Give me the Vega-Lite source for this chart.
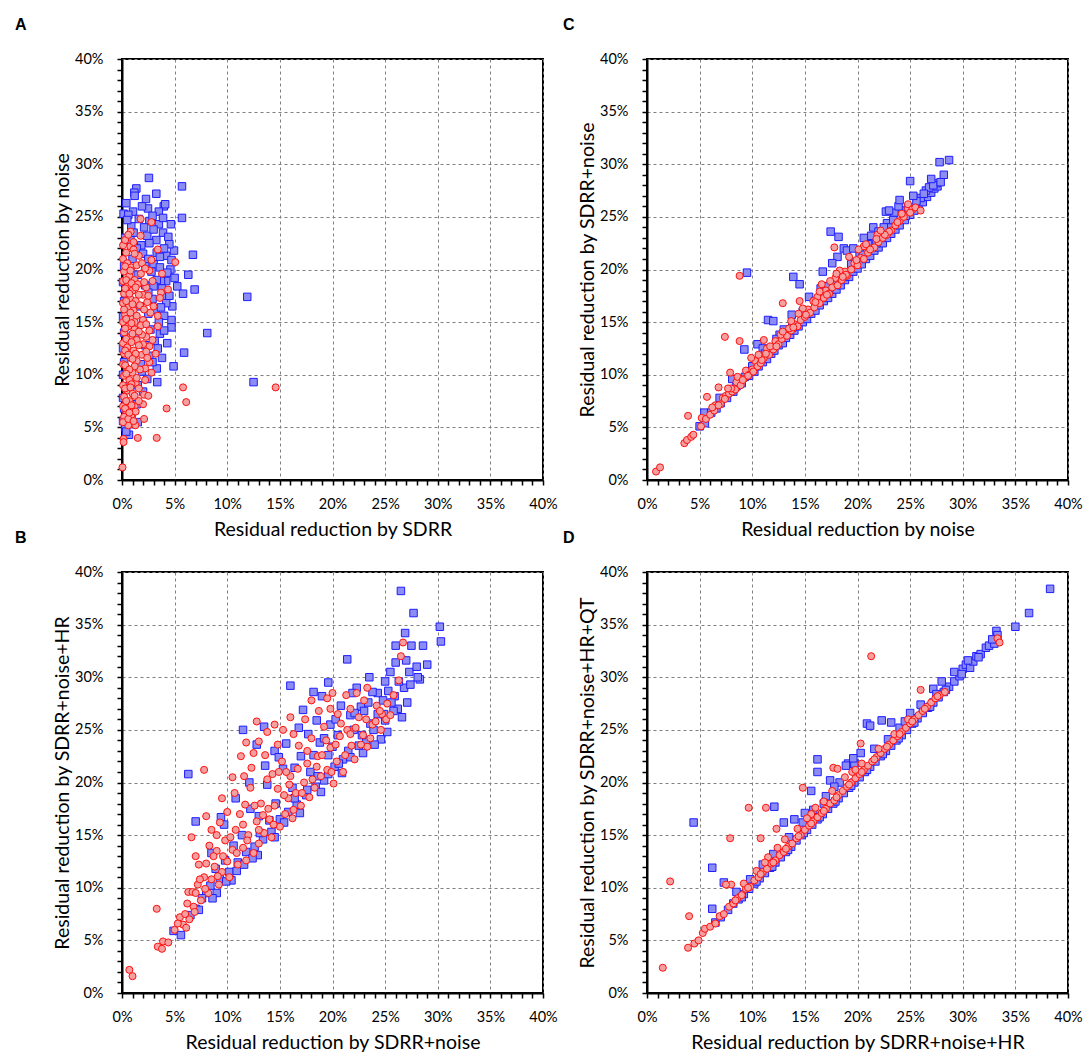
{
  "$schema": "https://vega.github.io/schema/vega-lite/v6.json",
  "padding": {"left": 14, "top": 15, "right": 5, "bottom": 5},
  "background": "#ffffff",
  "bounds": "flush",
  "columns": 2,
  "spacing": {"row": 92, "column": 104},
  "config": {
    "view": {"stroke": "#000000", "strokeWidth": 2},
    "axis": {
      "domainColor": "#000000", "domainWidth": 2,
      "tickColor": "#000000", "tickWidth": 1.5, "tickSize": 5,
      "labelFont": "Lato", "labelFontSize": 14.5, "labelColor": "#000000", "labelPadding": 12.5, "labelOverlap": false, "labelFlush": false,
      "titleFont": "Lato", "titleFontSize": 19.5, "titleFontWeight": "normal", "titleColor": "#000000", "titlePadding": 9,
      "gridColor": "#808080", "gridDash": [3, 3], "gridWidth": 1
    },
    "axisY": {"labelPadding": 14, "titlePadding": 2},
    "title": {"font": "Liberation Sans", "fontSize": 16, "fontWeight": "bold", "anchor": "start", "color": "#000000", "offset": 18.5, "frame": "group"}
  },
  "datasets": {
    "Ab": [
      {"x":2.56,"y":28.7},{"x":5.7,"y":27.9},{"x":1.36,"y":27.7},{"x":1.17,"y":27.3},{"x":1.2,"y":27.0},{"x":3.26,"y":27.2},{"x":2.28,"y":26.7},{"x":3.97,"y":26.0},{"x":4.1,"y":26.2},{"x":0.41,"y":26.3},
      {"x":1.05,"y":25.5},{"x":0.15,"y":25.3},{"x":2.47,"y":25.8},{"x":5.7,"y":24.9},{"x":3.5,"y":25.5},{"x":2.6,"y":24.6},{"x":0.88,"y":24.1},{"x":3.5,"y":24.3},{"x":4.65,"y":24.3},{"x":3.9,"y":23.5},
      {"x":2.4,"y":23.2},{"x":4.4,"y":23.1},{"x":3.26,"y":22.8},{"x":1.83,"y":22.3},{"x":4.94,"y":21.8},{"x":6.74,"y":21.4},{"x":4.2,"y":21.3},{"x":4.7,"y":20.9},{"x":6.3,"y":19.5},{"x":4.6,"y":20.0},
      {"x":5.25,"y":18.4},{"x":6.9,"y":18.1},{"x":5.8,"y":17.7},{"x":11.9,"y":17.4},{"x":4.2,"y":18.9},{"x":3.7,"y":18.9},{"x":4.78,"y":16.5},{"x":4.7,"y":15.2},{"x":4.7,"y":14.5},{"x":8.1,"y":13.96},
      {"x":3.6,"y":13.9},{"x":5.9,"y":12.1},{"x":3.8,"y":11.6},{"x":4.9,"y":10.8},{"x":3.35,"y":9.3},{"x":12.5,"y":9.3},{"x":1.5,"y":5.5},{"x":0.66,"y":4.3},
      {"x":0.3,"y":23.0},{"x":0.8,"y":22.8},{"x":1.4,"y":22.0},{"x":2.0,"y":21.5},{"x":2.5,"y":21.0},{"x":3.0,"y":20.5},{"x":3.6,"y":20.2},{"x":1.0,"y":21.0},{"x":0.2,"y":20.3},{"x":2.8,"y":19.8},
      {"x":3.3,"y":19.0},{"x":2.2,"y":18.5},{"x":1.5,"y":19.5},{"x":0.1,"y":18.8},{"x":3.9,"y":17.5},{"x":2.9,"y":17.2},{"x":4.2,"y":16.8},{"x":3.2,"y":16.2},{"x":0.2,"y":17.0},{"x":2.5,"y":15.8},
      {"x":4.0,"y":15.6},{"x":3.5,"y":15.0},{"x":0.1,"y":15.5},{"x":2.7,"y":14.3},{"x":0.2,"y":14.0},{"x":3.1,"y":13.2},{"x":4.3,"y":13.0},{"x":2.2,"y":12.8},{"x":0.1,"y":12.5},{"x":2.6,"y":11.8},
      {"x":0.2,"y":11.2},{"x":3.3,"y":10.6},{"x":1.9,"y":10.3},{"x":0.1,"y":10.0},{"x":2.4,"y":9.6},{"x":0.3,"y":8.9},{"x":2.0,"y":8.4},{"x":0.1,"y":7.8},{"x":1.4,"y":7.2},{"x":0.2,"y":6.8},
      {"x":0.9,"y":6.2},{"x":0.1,"y":5.6},{"x":0.3,"y":5.0},{"x":1.8,"y":11.0},{"x":1.2,"y":13.5},{"x":1.7,"y":16.5},{"x":2.1,"y":24.0},{"x":1.6,"y":24.8},{"x":0.6,"y":25.2},{"x":3.0,"y":23.8},{"x":1.1,"y":23.5},
      {"x":0.5,"y":24.7},{"x":1.9,"y":26.0},{"x":2.9,"y":25.1},{"x":3.9,"y":24.9},{"x":4.5,"y":22.4},{"x":4.0,"y":22.0},{"x":3.3,"y":21.6},{"x":2.6,"y":22.5},{"x":2.2,"y":20.3},{"x":3.6,"y":21.2},
      {"x":4.3,"y":19.7},{"x":3.8,"y":18.2},{"x":3.0,"y":18.4},{"x":2.5,"y":17.8},{"x":4.0,"y":14.2},{"x":3.4,"y":12.5},{"x":2.9,"y":11.2},{"x":1.5,"y":9.0},{"x":0.8,"y":5.3},{"x":0.4,"y":4.6},
      {"x":4.5,"y":17.5},{"x":5.0,"y":19.2},{"x":2.0,"y":14.9},{"x":3.7,"y":16.4}
    ],
    "Ar": [
      {"x":1.77,"y":24.8},{"x":2.8,"y":24.5},{"x":0.82,"y":23.6},{"x":1.77,"y":23.2},{"x":0.1,"y":22.3},{"x":0.8,"y":22.2},{"x":1.1,"y":21.9},{"x":3.4,"y":21.9},{"x":2.8,"y":20.9},{"x":5.06,"y":20.7},
      {"x":3.8,"y":19.6},{"x":2.3,"y":18.3},{"x":4.37,"y":18.1},{"x":3.7,"y":17.8},{"x":3.6,"y":17.3},{"x":3.4,"y":15.6},{"x":3.4,"y":14.6},{"x":2.3,"y":13.6},{"x":2.6,"y":12.7},{"x":2.0,"y":12.9},
      {"x":2.6,"y":11.2},{"x":2.2,"y":10.6},{"x":5.8,"y":8.8},{"x":14.6,"y":8.8},{"x":6.1,"y":7.4},{"x":4.24,"y":6.8},{"x":2.1,"y":8.1},{"x":2.5,"y":8.0},{"x":2.0,"y":7.2},{"x":2.1,"y":5.8},
      {"x":1.27,"y":5.2},{"x":0.6,"y":5.2},{"x":1.5,"y":4.0},{"x":3.3,"y":4.0},{"x":0.15,"y":3.9},{"x":0.15,"y":3.6},{"x":0.05,"y":1.2},
      {"x":0.1,"y":21.0},{"x":0.5,"y":20.6},{"x":0.9,"y":20.2},{"x":1.4,"y":20.4},{"x":0.2,"y":19.8},{"x":0.7,"y":19.4},{"x":1.2,"y":19.0},{"x":1.8,"y":19.6},{"x":0.1,"y":18.9},{"x":0.5,"y":18.4},
      {"x":1.0,"y":18.0},{"x":1.5,"y":18.6},{"x":2.0,"y":17.6},{"x":0.2,"y":17.7},{"x":0.8,"y":17.2},{"x":1.3,"y":17.0},{"x":0.1,"y":16.8},{"x":0.6,"y":16.4},{"x":1.1,"y":16.1},{"x":1.7,"y":16.6},
      {"x":2.4,"y":16.9},{"x":0.3,"y":15.7},{"x":0.9,"y":15.3},{"x":1.4,"y":15.6},{"x":2.0,"y":15.2},{"x":0.1,"y":15.0},{"x":0.6,"y":14.6},{"x":1.2,"y":14.3},{"x":1.8,"y":14.7},{"x":0.2,"y":14.0},
      {"x":0.8,"y":13.6},{"x":1.4,"y":13.3},{"x":0.1,"y":13.0},{"x":0.5,"y":12.6},{"x":1.1,"y":12.3},{"x":1.6,"y":12.8},{"x":0.2,"y":12.0},{"x":0.8,"y":11.6},{"x":1.4,"y":11.3},{"x":0.1,"y":11.0},
      {"x":0.5,"y":10.6},{"x":1.0,"y":10.2},{"x":1.7,"y":10.5},{"x":0.2,"y":9.9},{"x":0.7,"y":9.5},{"x":1.3,"y":9.2},{"x":0.1,"y":9.0},{"x":0.5,"y":8.5},{"x":1.0,"y":8.2},{"x":1.6,"y":8.7},
      {"x":0.2,"y":7.9},{"x":0.7,"y":7.5},{"x":1.2,"y":7.0},{"x":0.1,"y":7.0},{"x":0.4,"y":6.5},{"x":0.9,"y":6.2},{"x":0.2,"y":6.0},{"x":0.1,"y":5.5},{"x":0.6,"y":5.8},{"x":1.3,"y":6.5},
      {"x":2.2,"y":9.5},{"x":1.9,"y":13.8},{"x":2.3,"y":14.8},{"x":2.5,"y":17.5},{"x":2.1,"y":18.8},{"x":1.6,"y":21.3},{"x":0.4,"y":21.6},{"x":2.6,"y":19.9},{"x":1.9,"y":11.9},{"x":2.7,"y":15.9},
      {"x":3.0,"y":16.5},{"x":2.9,"y":18.9},{"x":1.1,"y":22.6},{"x":0.3,"y":22.8},
      {"x":0.3,"y":20.3},{"x":0.8,"y":19.9},{"x":1.2,"y":21.5},{"x":0.4,"y":19.0},{"x":0.9,"y":18.7},{"x":1.3,"y":18.3},{"x":0.3,"y":18.2},{"x":0.7,"y":17.7},{"x":1.6,"y":17.6},{"x":0.4,"y":17.0},
      {"x":1.0,"y":16.7},{"x":0.2,"y":16.2},{"x":0.8,"y":15.9},{"x":1.2,"y":15.0},{"x":0.4,"y":15.3},{"x":0.9,"y":14.9},{"x":0.3,"y":14.4},{"x":1.0,"y":13.9},{"x":1.6,"y":14.1},{"x":0.4,"y":13.4},
      {"x":0.9,"y":13.1},{"x":0.3,"y":12.3},{"x":1.3,"y":12.0},{"x":0.6,"y":11.9},{"x":1.0,"y":11.5},{"x":0.3,"y":10.9},{"x":1.2,"y":10.8},{"x":0.7,"y":10.5},{"x":0.4,"y":10.1},{"x":1.4,"y":9.7},
      {"x":0.9,"y":9.1},{"x":0.3,"y":8.7},{"x":0.8,"y":8.8},{"x":1.2,"y":8.0},{"x":0.4,"y":7.5},{"x":0.9,"y":7.1},{"x":1.6,"y":7.5},{"x":0.3,"y":6.8},{"x":0.7,"y":6.4},{"x":1.1,"y":5.6},
      {"x":2.3,"y":12.2},{"x":2.4,"y":11.6},{"x":2.1,"y":16.2},{"x":2.6,"y":14.2},{"x":1.9,"y":20.6},{"x":2.2,"y":20.1},{"x":0.6,"y":23.3},{"x":2.9,"y":13.3},{"x":2.8,"y":10.2},{"x":3.2,"y":12.0}
    ],
    "Cb": [
      {"x":5.0,"y":5.1},{"x":5.5,"y":5.4},{"x":5.45,"y":6.4},{"x":6.1,"y":6.4},{"x":6.6,"y":6.8},{"x":7.0,"y":7.3},{"x":7.6,"y":7.8},{"x":8.2,"y":8.4},{"x":8.5,"y":8.9},{"x":9.0,"y":9.2},
      {"x":9.3,"y":9.8},{"x":9.7,"y":9.9},{"x":10.2,"y":10.3},{"x":10.6,"y":10.8},{"x":11.0,"y":11.2},{"x":11.4,"y":11.5},{"x":11.8,"y":12.0},{"x":12.1,"y":12.3},{"x":12.5,"y":12.8},{"x":12.9,"y":13.0},
      {"x":13.2,"y":13.5},{"x":13.6,"y":13.8},{"x":14.0,"y":14.2},{"x":14.4,"y":14.6},{"x":14.8,"y":15.0},{"x":15.2,"y":15.3},{"x":15.6,"y":15.8},{"x":16.0,"y":16.1},{"x":16.4,"y":16.6},{"x":16.8,"y":17.0},
      {"x":17.2,"y":17.3},{"x":17.6,"y":17.7},{"x":18.0,"y":18.1},{"x":18.4,"y":18.5},{"x":18.8,"y":19.0},{"x":19.2,"y":19.3},{"x":19.6,"y":19.8},{"x":20.0,"y":20.1},{"x":20.4,"y":20.5},{"x":20.8,"y":21.0},
      {"x":21.2,"y":21.3},{"x":21.6,"y":21.8},{"x":22.0,"y":22.1},{"x":22.4,"y":22.5},{"x":22.8,"y":23.0},{"x":23.2,"y":23.4},{"x":23.6,"y":23.8},{"x":24.0,"y":24.2},{"x":24.5,"y":24.7},{"x":25.0,"y":25.2},
      {"x":25.4,"y":25.6},{"x":25.8,"y":26.0},{"x":26.2,"y":26.4},{"x":26.6,"y":26.9},{"x":27.0,"y":27.3},{"x":27.3,"y":27.7},{"x":27.6,"y":27.9},{"x":27.5,"y":28.2},{"x":27.8,"y":30.2},{"x":28.7,"y":30.4},
      {"x":25.0,"y":28.4},{"x":26.0,"y":26.8},{"x":24.3,"y":25.6},{"x":23.5,"y":25.4},{"x":22.7,"y":25.5},{"x":23.9,"y":26.0},{"x":22.8,"y":24.4},{"x":21.5,"y":24.0},{"x":17.45,"y":23.6},{"x":18.2,"y":23.1},
      {"x":18.7,"y":22.0},{"x":18.1,"y":21.2},{"x":19.0,"y":21.8},{"x":19.6,"y":22.0},{"x":20.2,"y":21.6},{"x":17.6,"y":20.6},{"x":16.7,"y":19.8},{"x":13.9,"y":19.3},{"x":14.5,"y":18.6},{"x":9.5,"y":19.7},
      {"x":9.25,"y":12.4},{"x":11.5,"y":15.2},{"x":12.0,"y":15.1},{"x":13.75,"y":15.7},{"x":10.5,"y":12.9},{"x":8.1,"y":9.6},{"x":15.4,"y":17.4},{"x":16.5,"y":18.2},{"x":16.0,"y":17.0},{"x":12.6,"y":13.8},
      {"x":11.0,"y":12.5},{"x":14.8,"y":16.0},{"x":19.8,"y":20.7},{"x":21.0,"y":22.4},{"x":22.2,"y":23.3},{"x":23.0,"y":24.0},{"x":24.8,"y":25.9},{"x":26.5,"y":27.5},{"x":26.8,"y":27.8},{"x":27.2,"y":28.0},
      {"x":20.6,"y":23.0},{"x":22.0,"y":23.6},
      {"x":27.9,"y":28.3},{"x":28.2,"y":29.0},{"x":27.0,"y":28.6},{"x":26.3,"y":27.2},{"x":25.6,"y":26.5},{"x":25.3,"y":27.0},{"x":24.6,"y":25.1},{"x":23.4,"y":24.7},{"x":22.5,"y":24.0},{"x":21.8,"y":22.5},
      {"x":21.3,"y":23.2},{"x":20.5,"y":21.4},{"x":19.4,"y":20.5},{"x":18.5,"y":19.6},{"x":17.8,"y":18.6},{"x":17.0,"y":18.4},{"x":16.2,"y":17.0},{"x":15.0,"y":16.1},{"x":13.8,"y":14.5},{"x":13.0,"y":14.3},
      {"x":12.3,"y":13.4},{"x":11.2,"y":12.0},{"x":10.0,"y":10.8},{"x":8.8,"y":9.3},{"x":7.9,"y":8.4},{"x":6.9,"y":7.8},{"x":24.0,"y":26.6},{"x":23.0,"y":25.6}
    ],
    "Cr": [
      {"x":0.86,"y":0.8},{"x":1.24,"y":1.2},{"x":3.55,"y":3.5},{"x":3.8,"y":3.8},{"x":4.2,"y":4.1},{"x":4.4,"y":4.3},{"x":3.9,"y":6.1},{"x":5.13,"y":5.1},{"x":5.2,"y":5.9},{"x":5.7,"y":7.9},
      {"x":6.8,"y":8.8},{"x":7.4,"y":13.6},{"x":8.8,"y":19.4},{"x":8.8,"y":13.2},{"x":7.9,"y":10.2},{"x":12.9,"y":16.8},{"x":11.1,"y":13.3},{"x":14.5,"y":17.0},{"x":17.8,"y":22.1},{"x":21.9,"y":23.3},
      {"x":20.6,"y":22.2},
      {"x":5.6,"y":5.8},{"x":6.0,"y":6.2},{"x":6.4,"y":6.6},{"x":6.5,"y":7.1},{"x":7.0,"y":7.2},{"x":7.2,"y":7.8},{"x":7.5,"y":8.0},{"x":7.8,"y":8.2},{"x":8.1,"y":8.4},{"x":8.4,"y":8.6},
      {"x":8.5,"y":9.3},{"x":8.9,"y":9.0},{"x":9.2,"y":9.6},{"x":9.4,"y":10.4},{"x":9.7,"y":10.0},{"x":10.0,"y":10.5},{"x":10.3,"y":11.3},{"x":10.5,"y":10.8},{"x":10.8,"y":11.1},{"x":11.1,"y":11.6},
      {"x":11.4,"y":12.5},{"x":11.6,"y":11.9},{"x":12.0,"y":12.4},{"x":12.2,"y":13.2},{"x":12.5,"y":12.9},{"x":12.8,"y":13.4},{"x":13.0,"y":13.9},{"x":13.3,"y":13.7},{"x":13.7,"y":14.2},{"x":14.0,"y":14.8},
      {"x":14.3,"y":14.6},{"x":14.6,"y":15.2},{"x":15.0,"y":15.5},{"x":15.3,"y":16.2},{"x":15.5,"y":15.9},{"x":15.9,"y":16.4},{"x":16.2,"y":17.4},{"x":16.4,"y":16.8},{"x":16.8,"y":17.3},{"x":17.0,"y":18.0},
      {"x":17.3,"y":17.7},{"x":17.6,"y":18.3},{"x":17.9,"y":19.2},{"x":18.1,"y":18.5},{"x":18.5,"y":19.0},{"x":18.8,"y":19.8},{"x":19.0,"y":19.4},{"x":19.4,"y":20.0},{"x":19.7,"y":20.6},{"x":20.0,"y":20.4},
      {"x":20.3,"y":21.1},{"x":20.6,"y":21.0},{"x":21.0,"y":21.6},{"x":21.3,"y":22.0},{"x":21.6,"y":22.1},{"x":22.0,"y":22.6},{"x":22.4,"y":23.0},{"x":22.8,"y":23.3},{"x":23.2,"y":23.7},{"x":23.6,"y":24.2},
      {"x":24.0,"y":24.6},{"x":24.4,"y":25.0},{"x":24.8,"y":25.8},{"x":24.8,"y":26.2},{"x":25.2,"y":25.7},{"x":25.5,"y":25.9},{"x":26.0,"y":25.6},{"x":12.7,"y":13.8},{"x":11.3,"y":12.0},{"x":13.7,"y":15.1},
      {"x":9.9,"y":11.6},{"x":10.1,"y":10.3},{"x":8.0,"y":8.7},{"x":15.8,"y":17.0},{"x":18.3,"y":19.9},{"x":19.2,"y":21.2},{"x":16.6,"y":18.6},{"x":6.2,"y":6.9},{"x":7.7,"y":8.7},{"x":11.7,"y":12.7},
      {"x":14.8,"y":16.3},{"x":17.4,"y":18.9},{"x":20.1,"y":21.9},{"x":21.8,"y":22.9},{"x":23.0,"y":23.6},{"x":18.9,"y":19.5},{"x":13.5,"y":14.4},
      {"x":9.6,"y":9.9},{"x":10.9,"y":11.4},{"x":12.3,"y":12.7},{"x":13.9,"y":14.5},{"x":15.1,"y":15.7},{"x":16.0,"y":16.9},{"x":17.1,"y":17.6},{"x":18.6,"y":19.3},{"x":19.9,"y":20.9},{"x":21.2,"y":21.9},
      {"x":22.6,"y":23.3},{"x":23.8,"y":24.5},{"x":25.0,"y":25.4},{"x":8.6,"y":9.8},{"x":10.6,"y":11.9},{"x":12.9,"y":14.1},{"x":14.4,"y":15.8},{"x":16.4,"y":17.9},{"x":18.0,"y":19.6},{"x":20.8,"y":22.4},
      {"x":22.2,"y":23.7},{"x":24.2,"y":25.3},{"x":7.4,"y":7.7},{"x":6.8,"y":7.1},{"x":9.1,"y":9.5}
    ],
    "Bb": [
      {"x":4.9,"y":5.9},{"x":5.6,"y":5.5},{"x":6.3,"y":20.8},{"x":7.0,"y":16.3},{"x":8.5,"y":13.3},{"x":9.4,"y":16.7},{"x":9.7,"y":16.0},{"x":11.5,"y":25.0},{"x":12.8,"y":23.6},{"x":13.5,"y":25.3},
      {"x":14.5,"y":23.0},{"x":16.0,"y":29.2},{"x":17.2,"y":26.9},{"x":18.2,"y":28.6},{"x":19.0,"y":28.2},{"x":19.6,"y":29.5},{"x":21.4,"y":31.7},{"x":22.3,"y":29.0},{"x":23.5,"y":30.0},{"x":24.3,"y":28.5},
      {"x":25.3,"y":28.7},{"x":25.5,"y":30.5},{"x":26.0,"y":33.0},{"x":26.5,"y":38.2},{"x":27.7,"y":36.1},{"x":30.2,"y":34.8},{"x":30.3,"y":33.4},{"x":27.5,"y":33.0},{"x":27.0,"y":31.6},{"x":27.3,"y":30.5},
      {"x":28.0,"y":31.0},{"x":28.3,"y":29.8},{"x":26.8,"y":29.0},{"x":26.2,"y":27.0},{"x":25.8,"y":26.8},{"x":25.0,"y":25.9},{"x":24.3,"y":26.5},{"x":23.6,"y":25.6},{"x":23.2,"y":24.0},{"x":22.5,"y":23.5},
      {"x":22.0,"y":25.0},{"x":21.5,"y":23.0},{"x":21.0,"y":22.2},{"x":20.5,"y":24.5},{"x":20.2,"y":21.5},{"x":19.6,"y":22.6},{"x":19.2,"y":20.2},{"x":18.8,"y":23.8},{"x":18.4,"y":19.6},{"x":17.9,"y":21.0},
      {"x":17.5,"y":18.8},{"x":17.0,"y":22.5},{"x":16.6,"y":17.9},{"x":16.2,"y":19.5},{"x":15.8,"y":17.2},{"x":15.3,"y":21.3},{"x":15.0,"y":16.5},{"x":14.6,"y":18.0},{"x":14.2,"y":15.3},{"x":13.8,"y":19.8},
      {"x":13.4,"y":14.6},{"x":13.0,"y":16.8},{"x":12.6,"y":13.9},{"x":12.2,"y":17.5},{"x":11.8,"y":13.4},{"x":11.4,"y":15.0},{"x":11.0,"y":12.4},{"x":10.6,"y":14.0},{"x":10.2,"y":11.5},{"x":9.8,"y":12.6},
      {"x":9.3,"y":10.8},{"x":8.9,"y":11.8},{"x":8.4,"y":10.2},{"x":8.0,"y":9.5},{"x":7.6,"y":9.0},{"x":7.0,"y":8.0},{"x":6.5,"y":7.4},{"x":24.8,"y":27.8},{"x":25.9,"y":28.2},{"x":23.8,"y":28.6},
      {"x":22.7,"y":27.2},{"x":21.7,"y":26.4},{"x":20.8,"y":27.3},{"x":19.8,"y":25.5},{"x":18.5,"y":25.9},{"x":17.7,"y":24.6},{"x":16.8,"y":25.2},{"x":15.6,"y":23.7},{"x":14.9,"y":22.4},{"x":13.6,"y":21.6},
      {"x":12.1,"y":20.0},{"x":10.8,"y":18.5},{"x":23.0,"y":26.8},{"x":21.9,"y":28.5},{"x":20.3,"y":26.0},{"x":19.2,"y":24.2},{"x":24.6,"y":24.1},{"x":26.6,"y":26.2},{"x":27.1,"y":27.6},{"x":25.2,"y":24.8},
      {"x":22.9,"y":22.8},{"x":20.9,"y":20.9},{"x":18.9,"y":19.1},{"x":16.9,"y":17.1},{"x":12.9,"y":13.1},{"x":10.4,"y":10.7},{"x":14.5,"y":14.8},{"x":24.0,"y":23.6},{"x":29.0,"y":31.2},{"x":28.6,"y":33.0},
      {"x":26.9,"y":34.2},
      {"x":26.3,"y":29.6},{"x":27.4,"y":29.3},{"x":28.1,"y":30.0},{"x":25.6,"y":27.6},{"x":24.9,"y":26.5},{"x":23.9,"y":25.0},{"x":22.8,"y":24.5},{"x":21.7,"y":22.4},{"x":20.6,"y":21.8},{"x":19.6,"y":20.8},
      {"x":18.6,"y":20.6},{"x":17.6,"y":19.3},{"x":16.4,"y":18.5},{"x":15.4,"y":16.2},{"x":14.0,"y":16.4},{"x":13.1,"y":15.2},{"x":12.4,"y":12.8},{"x":11.6,"y":12.2},{"x":10.9,"y":11.6},{"x":9.9,"y":10.6},
      {"x":9.0,"y":9.5},{"x":8.6,"y":9.0},{"x":7.3,"y":7.9},{"x":23.4,"y":27.6},{"x":22.1,"y":26.6},{"x":20.0,"y":23.4},{"x":18.2,"y":22.6},{"x":16.4,"y":21.4},{"x":26.0,"y":31.4},{"x":25.0,"y":29.6}
    ],
    "Br": [
      {"x":0.7,"y":2.2},{"x":1.0,"y":1.6},{"x":3.3,"y":8.0},{"x":3.4,"y":4.4},{"x":3.8,"y":4.2},{"x":3.9,"y":4.9},{"x":4.4,"y":4.8},{"x":6.3,"y":9.6},{"x":6.7,"y":9.6},{"x":6.2,"y":8.5},
      {"x":6.6,"y":14.8},{"x":7.0,"y":13.0},{"x":7.3,"y":12.2},{"x":7.8,"y":21.2},{"x":8.0,"y":16.8},{"x":8.5,"y":15.5},{"x":9.5,"y":18.5},{"x":10.5,"y":20.5},{"x":11.3,"y":22.5},{"x":11.8,"y":23.8},
      {"x":12.5,"y":22.8},{"x":12.8,"y":25.8},{"x":13.8,"y":24.8},{"x":14.5,"y":25.5},{"x":15.3,"y":25.0},{"x":19.8,"y":27.0},{"x":20.5,"y":26.5},{"x":21.3,"y":28.3},{"x":22.3,"y":28.5},{"x":23.3,"y":29.0},
      {"x":26.7,"y":33.3},{"x":26.5,"y":32.0},{"x":24.7,"y":26.5},
      {"x":5.0,"y":6.0},{"x":5.5,"y":7.2},{"x":5.8,"y":6.5},{"x":6.0,"y":7.5},{"x":6.4,"y":7.0},{"x":6.8,"y":8.2},{"x":7.0,"y":9.5},{"x":7.2,"y":10.3},{"x":7.5,"y":8.8},{"x":7.8,"y":11.0},
      {"x":8.0,"y":12.3},{"x":8.2,"y":9.5},{"x":8.5,"y":10.8},{"x":8.8,"y":12.0},{"x":9.0,"y":13.5},{"x":9.2,"y":10.3},{"x":9.5,"y":11.5},{"x":9.8,"y":14.5},{"x":10.0,"y":12.5},{"x":10.2,"y":11.0},
      {"x":10.5,"y":13.6},{"x":10.8,"y":15.5},{"x":11.0,"y":12.2},{"x":11.2,"y":17.0},{"x":11.5,"y":13.8},{"x":11.8,"y":12.6},{"x":12.0,"y":15.0},{"x":12.2,"y":19.5},{"x":12.5,"y":13.3},{"x":12.8,"y":16.3},
      {"x":13.0,"y":14.2},{"x":13.2,"y":18.0},{"x":13.5,"y":15.2},{"x":13.8,"y":20.3},{"x":14.0,"y":16.5},{"x":14.2,"y":14.8},{"x":14.5,"y":17.8},{"x":14.8,"y":19.4},{"x":15.0,"y":15.8},{"x":15.2,"y":22.0},
      {"x":15.5,"y":17.0},{"x":15.8,"y":18.5},{"x":16.0,"y":20.6},{"x":16.2,"y":16.6},{"x":16.5,"y":19.0},{"x":16.8,"y":23.5},{"x":17.0,"y":17.8},{"x":17.3,"y":20.0},{"x":17.6,"y":21.8},{"x":17.8,"y":18.6},
      {"x":18.0,"y":24.2},{"x":18.3,"y":19.5},{"x":18.6,"y":22.5},{"x":18.9,"y":20.6},{"x":19.2,"y":25.3},{"x":19.5,"y":21.2},{"x":19.8,"y":23.3},{"x":20.1,"y":19.9},{"x":20.4,"y":22.0},{"x":20.7,"y":24.4},
      {"x":21.0,"y":21.0},{"x":21.4,"y":25.0},{"x":21.8,"y":23.5},{"x":22.1,"y":22.2},{"x":22.5,"y":26.2},{"x":22.9,"y":24.5},{"x":23.3,"y":23.4},{"x":23.8,"y":25.5},{"x":24.2,"y":27.3},{"x":24.6,"y":25.0},
      {"x":25.1,"y":26.0},{"x":25.5,"y":26.4},{"x":16.3,"y":24.6},{"x":17.4,"y":26.0},{"x":18.7,"y":26.8},{"x":15.6,"y":21.0},{"x":13.6,"y":22.6},{"x":12.3,"y":21.4},{"x":10.7,"y":19.0},{"x":9.3,"y":16.2},
      {"x":8.3,"y":14.0},{"x":20.0,"y":28.5},{"x":21.7,"y":27.0},{"x":23.0,"y":27.8},{"x":14.3,"y":20.8},{"x":11.7,"y":17.9},
      {"x":5.3,"y":6.6},{"x":6.1,"y":6.2},{"x":6.9,"y":7.7},{"x":7.4,"y":10.8},{"x":7.9,"y":9.9},{"x":8.7,"y":13.0},{"x":9.1,"y":11.1},{"x":9.6,"y":13.0},{"x":10.3,"y":14.8},{"x":10.9,"y":13.3},
      {"x":11.5,"y":16.0},{"x":11.9,"y":14.5},{"x":12.6,"y":17.8},{"x":13.0,"y":15.5},{"x":13.4,"y":16.9},{"x":13.9,"y":17.5},{"x":14.4,"y":16.0},{"x":14.9,"y":21.0},{"x":15.4,"y":18.8},{"x":15.9,"y":19.8},
      {"x":16.3,"y":17.4},{"x":16.7,"y":21.3},{"x":17.1,"y":19.0},{"x":17.6,"y":23.0},{"x":18.1,"y":20.3},{"x":18.5,"y":21.5},{"x":19.0,"y":22.6},{"x":19.4,"y":24.0},{"x":19.9,"y":21.0},{"x":20.3,"y":23.6},
      {"x":20.8,"y":25.6},{"x":21.2,"y":22.6},{"x":21.7,"y":24.6},{"x":22.2,"y":25.2},{"x":22.7,"y":23.6},{"x":23.2,"y":26.0},{"x":23.6,"y":24.2},{"x":24.1,"y":25.8},{"x":24.5,"y":26.8},{"x":25.2,"y":27.5},
      {"x":25.8,"y":28.3},{"x":26.3,"y":29.7},{"x":18.0,"y":27.8},{"x":19.5,"y":28.0},{"x":16.0,"y":26.2},{"x":14.8,"y":23.6},{"x":13.0,"y":23.9},{"x":11.6,"y":20.6},{"x":10.0,"y":17.2},{"x":9.0,"y":15.0}
    ],
    "Db": [
      {"x":4.43,"y":16.2},{"x":12.1,"y":17.7},{"x":15.6,"y":19.2},{"x":16.2,"y":22.2},{"x":16.2,"y":21.0},{"x":17.4,"y":20.2},{"x":13.0,"y":16.2},{"x":14.0,"y":16.5},{"x":15.0,"y":17.1},{"x":19.1,"y":21.8},
      {"x":19.7,"y":21.8},{"x":20.3,"y":22.8},{"x":6.2,"y":11.9},{"x":7.3,"y":10.5},{"x":6.2,"y":8.0},{"x":20.9,"y":25.6},{"x":21.2,"y":25.4},{"x":22.3,"y":25.9},{"x":23.2,"y":25.7},
      {"x":6.5,"y":6.7},{"x":7.0,"y":7.2},{"x":7.7,"y":7.9},{"x":8.2,"y":8.5},{"x":8.7,"y":8.9},{"x":9.2,"y":9.4},{"x":9.7,"y":9.9},{"x":10.2,"y":10.4},{"x":10.7,"y":10.9},{"x":11.2,"y":11.4},
      {"x":11.7,"y":11.9},{"x":12.2,"y":12.4},{"x":12.7,"y":12.9},{"x":13.2,"y":13.4},{"x":13.7,"y":13.9},{"x":14.2,"y":14.5},{"x":14.7,"y":15.0},{"x":15.2,"y":15.5},{"x":15.7,"y":16.0},{"x":16.2,"y":16.5},
      {"x":16.7,"y":17.0},{"x":17.2,"y":17.5},{"x":17.7,"y":18.0},{"x":18.2,"y":18.5},{"x":18.7,"y":19.0},{"x":19.2,"y":19.5},{"x":19.7,"y":20.0},{"x":20.2,"y":20.5},{"x":20.7,"y":21.0},{"x":21.2,"y":21.5},
      {"x":21.7,"y":22.0},{"x":22.2,"y":22.5},{"x":22.7,"y":23.0},{"x":23.2,"y":23.5},{"x":23.7,"y":24.0},{"x":24.2,"y":24.5},{"x":24.7,"y":25.0},{"x":25.2,"y":25.6},{"x":25.7,"y":26.1},{"x":26.2,"y":26.6},
      {"x":26.7,"y":27.1},{"x":27.2,"y":27.6},{"x":27.7,"y":28.1},{"x":28.2,"y":28.6},{"x":28.7,"y":29.1},{"x":29.2,"y":29.6},{"x":29.7,"y":30.1},{"x":30.0,"y":30.8},{"x":30.3,"y":31.2},{"x":30.7,"y":30.9},
      {"x":31.0,"y":31.5},{"x":31.3,"y":32.0},{"x":31.7,"y":32.2},{"x":32.2,"y":32.8},{"x":32.5,"y":33.0},{"x":33.0,"y":33.2},{"x":33.2,"y":34.4},{"x":33.3,"y":34.0},{"x":35.0,"y":34.8},{"x":36.3,"y":36.1},
      {"x":38.3,"y":38.4},{"x":26.0,"y":27.4},{"x":27.2,"y":28.9},{"x":28.0,"y":29.6},{"x":29.2,"y":30.5},{"x":25.0,"y":26.6},{"x":24.0,"y":25.2},{"x":22.9,"y":24.1},{"x":21.6,"y":23.2},{"x":18.3,"y":20.0},
      {"x":17.8,"y":19.6},{"x":17.0,"y":18.7},{"x":16.8,"y":18.0},{"x":15.8,"y":17.4},{"x":14.8,"y":16.2},{"x":13.5,"y":14.8},{"x":12.0,"y":13.2},{"x":11.0,"y":12.2},{"x":9.8,"y":10.8},{"x":8.5,"y":9.6},
      {"x":18.9,"y":21.6},{"x":19.6,"y":22.3},
      {"x":9.0,"y":9.1},{"x":10.4,"y":10.6},{"x":11.9,"y":12.0},{"x":13.4,"y":13.6},{"x":14.9,"y":15.2},{"x":16.4,"y":16.7},{"x":17.9,"y":18.2},{"x":19.4,"y":19.7},{"x":20.9,"y":21.2},{"x":22.4,"y":22.7},
      {"x":23.9,"y":24.2},{"x":25.4,"y":25.7},{"x":26.9,"y":27.2},{"x":28.4,"y":28.8},{"x":29.9,"y":30.3},{"x":31.5,"y":31.9},{"x":32.8,"y":33.6},{"x":24.5,"y":25.8},{"x":27.5,"y":28.4},{"x":30.5,"y":31.6}
    ],
    "Dr": [
      {"x":1.5,"y":2.4},{"x":2.2,"y":10.6},{"x":4.0,"y":7.3},{"x":3.9,"y":4.3},{"x":4.5,"y":4.7},{"x":4.9,"y":5.0},{"x":5.3,"y":5.7},{"x":5.5,"y":6.1},{"x":7.9,"y":14.7},{"x":9.66,"y":17.6},
      {"x":11.3,"y":17.6},{"x":10.8,"y":14.7},{"x":14.8,"y":19.5},{"x":17.7,"y":21.4},{"x":18.1,"y":21.3},{"x":12.3,"y":15.6},{"x":21.3,"y":32.0},{"x":20.3,"y":23.7},{"x":8.0,"y":10.3},{"x":7.5,"y":10.3},
      {"x":6.0,"y":6.3},{"x":6.5,"y":6.6},{"x":6.9,"y":7.3},{"x":7.3,"y":7.5},{"x":7.8,"y":8.2},{"x":8.2,"y":8.5},{"x":8.6,"y":9.0},{"x":9.0,"y":9.3},{"x":9.4,"y":9.9},{"x":9.8,"y":10.1},
      {"x":10.2,"y":10.7},{"x":10.6,"y":11.0},{"x":11.0,"y":11.5},{"x":11.4,"y":11.8},{"x":11.8,"y":12.3},{"x":12.2,"y":12.6},{"x":12.6,"y":13.1},{"x":13.0,"y":13.4},{"x":13.4,"y":13.9},{"x":13.8,"y":14.2},
      {"x":14.2,"y":14.7},{"x":14.6,"y":15.0},{"x":15.0,"y":15.5},{"x":15.4,"y":15.9},{"x":15.8,"y":16.3},{"x":16.2,"y":16.7},{"x":16.6,"y":17.1},{"x":17.0,"y":17.5},{"x":17.4,"y":18.0},{"x":17.8,"y":18.3},
      {"x":18.2,"y":18.8},{"x":18.6,"y":19.2},{"x":19.0,"y":19.6},{"x":19.4,"y":20.0},{"x":19.8,"y":20.4},{"x":20.2,"y":20.8},{"x":20.6,"y":21.2},{"x":21.0,"y":21.6},{"x":21.4,"y":22.0},{"x":21.8,"y":22.4},
      {"x":22.2,"y":22.8},{"x":22.6,"y":23.2},{"x":23.0,"y":23.6},{"x":23.4,"y":24.0},{"x":23.8,"y":24.4},{"x":24.2,"y":24.8},{"x":24.6,"y":25.2},{"x":25.0,"y":25.6},{"x":25.4,"y":26.0},{"x":25.8,"y":26.4},
      {"x":26.2,"y":26.8},{"x":26.6,"y":27.2},{"x":27.0,"y":27.6},{"x":27.4,"y":28.0},{"x":27.8,"y":28.3},{"x":28.3,"y":28.6},{"x":26.0,"y":28.8},{"x":33.3,"y":33.7},{"x":33.5,"y":33.3},{"x":13.1,"y":14.6},
      {"x":14.3,"y":15.6},{"x":15.6,"y":17.0},{"x":16.8,"y":18.2},{"x":12.4,"y":13.8},{"x":11.5,"y":12.9},{"x":10.4,"y":11.6},{"x":9.2,"y":10.4},{"x":18.8,"y":20.5},{"x":19.5,"y":21.0},{"x":22.0,"y":23.2},
      {"x":23.5,"y":24.6},{"x":17.6,"y":19.2},{"x":16.0,"y":17.6},{"x":20.4,"y":21.8},{"x":24.8,"y":26.0},
      {"x":8.4,"y":8.8},{"x":9.6,"y":10.0},{"x":10.8,"y":11.3},{"x":12.0,"y":12.4},{"x":13.2,"y":13.7},{"x":14.4,"y":14.9},{"x":15.6,"y":16.1},{"x":16.8,"y":17.3},{"x":18.0,"y":18.6},{"x":19.2,"y":19.8},
      {"x":20.4,"y":21.0},{"x":21.6,"y":22.2},{"x":22.8,"y":23.4},{"x":24.0,"y":24.6},{"x":25.2,"y":25.8},{"x":26.4,"y":27.0},{"x":27.6,"y":28.2},{"x":11.2,"y":12.4},{"x":15.2,"y":16.6},{"x":19.8,"y":21.2}
    ]
  },
  "concat": [
    {
      "width": 421, "height": 421,
      "title": {"text": "A", "dx": -107},
      "encoding": {
        "x": {"field": "x", "type": "quantitative", "scale": {"domain": [0, 40], "nice": false},
          "axis": {"title": "Residual reduction by SDRR", "tickCount": 100, "values": [0,1,2,3,4,5,6,7,8,9,10,11,12,13,14,15,16,17,18,19,20,21,22,23,24,25,26,27,28,29,30,31,32,33,34,35,36,37,38,39,40],
            "labelExpr": "datum.value % 5 === 0 ? datum.value + '%' : ''", "labelOverlap": false, "labelFlush": false,
            "gridOpacity": {"condition": {"test": "datum.value % 5 === 0", "value": 1}, "value": 0}}},
        "y": {"field": "y", "type": "quantitative", "scale": {"domain": [0, 40], "nice": false},
          "axis": {"title": "Residual reduction by noise", "tickCount": 100, "values": [0,1,2,3,4,5,6,7,8,9,10,11,12,13,14,15,16,17,18,19,20,21,22,23,24,25,26,27,28,29,30,31,32,33,34,35,36,37,38,39,40],
            "labelExpr": "datum.value % 5 === 0 ? datum.value + '%' : ''", "labelOverlap": false, "labelFlush": false,
            "gridOpacity": {"condition": {"test": "datum.value % 5 === 0", "value": 1}, "value": 0}}}
      },
      "layer": [
        {"data": {"name": "Ab"}, "mark": {"type": "square", "size": 56, "fill": "#8c8cf2", "stroke": "#1e1eff", "strokeWidth": 1, "opacity": 1}},
        {"data": {"name": "Ar"}, "mark": {"type": "circle", "size": 50, "fill": "#f4a0a0", "stroke": "#ff1010", "strokeWidth": 1, "opacity": 1}}
      ]
    },
    {
      "width": 421, "height": 421,
      "title": {"text": "C", "dx": -84},
      "encoding": {
        "x": {"field": "x", "type": "quantitative", "scale": {"domain": [0, 40], "nice": false},
          "axis": {"title": "Residual reduction by noise", "tickCount": 100, "values": [0,1,2,3,4,5,6,7,8,9,10,11,12,13,14,15,16,17,18,19,20,21,22,23,24,25,26,27,28,29,30,31,32,33,34,35,36,37,38,39,40],
            "labelExpr": "datum.value % 5 === 0 ? datum.value + '%' : ''", "labelOverlap": false, "labelFlush": false,
            "gridOpacity": {"condition": {"test": "datum.value % 5 === 0", "value": 1}, "value": 0}}},
        "y": {"field": "y", "type": "quantitative", "scale": {"domain": [0, 40], "nice": false},
          "axis": {"title": "Residual reduction by SDRR+noise", "tickCount": 100, "values": [0,1,2,3,4,5,6,7,8,9,10,11,12,13,14,15,16,17,18,19,20,21,22,23,24,25,26,27,28,29,30,31,32,33,34,35,36,37,38,39,40],
            "labelExpr": "datum.value % 5 === 0 ? datum.value + '%' : ''", "labelOverlap": false, "labelFlush": false,
            "gridOpacity": {"condition": {"test": "datum.value % 5 === 0", "value": 1}, "value": 0}}}
      },
      "layer": [
        {"data": {"name": "Cb"}, "mark": {"type": "square", "size": 56, "fill": "#8c8cf2", "stroke": "#1e1eff", "strokeWidth": 1, "opacity": 1}},
        {"data": {"name": "Cr"}, "mark": {"type": "circle", "size": 50, "fill": "#f4a0a0", "stroke": "#ff1010", "strokeWidth": 1, "opacity": 1}}
      ]
    },
    {
      "width": 421, "height": 421,
      "title": {"text": "B", "dx": -107},
      "encoding": {
        "x": {"field": "x", "type": "quantitative", "scale": {"domain": [0, 40], "nice": false},
          "axis": {"title": "Residual reduction by SDRR+noise", "tickCount": 100, "values": [0,1,2,3,4,5,6,7,8,9,10,11,12,13,14,15,16,17,18,19,20,21,22,23,24,25,26,27,28,29,30,31,32,33,34,35,36,37,38,39,40],
            "labelExpr": "datum.value % 5 === 0 ? datum.value + '%' : ''", "labelOverlap": false, "labelFlush": false,
            "gridOpacity": {"condition": {"test": "datum.value % 5 === 0", "value": 1}, "value": 0}}},
        "y": {"field": "y", "type": "quantitative", "scale": {"domain": [0, 40], "nice": false},
          "axis": {"title": "Residual reduction by SDRR+noise+HR", "tickCount": 100, "values": [0,1,2,3,4,5,6,7,8,9,10,11,12,13,14,15,16,17,18,19,20,21,22,23,24,25,26,27,28,29,30,31,32,33,34,35,36,37,38,39,40],
            "labelExpr": "datum.value % 5 === 0 ? datum.value + '%' : ''", "labelOverlap": false, "labelFlush": false,
            "gridOpacity": {"condition": {"test": "datum.value % 5 === 0", "value": 1}, "value": 0}}}
      },
      "layer": [
        {"data": {"name": "Bb"}, "mark": {"type": "square", "size": 56, "fill": "#8c8cf2", "stroke": "#1e1eff", "strokeWidth": 1, "opacity": 1}},
        {"data": {"name": "Br"}, "mark": {"type": "circle", "size": 50, "fill": "#f4a0a0", "stroke": "#ff1010", "strokeWidth": 1, "opacity": 1}}
      ]
    },
    {
      "width": 421, "height": 421,
      "title": {"text": "D", "dx": -84},
      "encoding": {
        "x": {"field": "x", "type": "quantitative", "scale": {"domain": [0, 40], "nice": false},
          "axis": {"title": "Residual reduction by SDRR+noise+HR", "tickCount": 100, "values": [0,1,2,3,4,5,6,7,8,9,10,11,12,13,14,15,16,17,18,19,20,21,22,23,24,25,26,27,28,29,30,31,32,33,34,35,36,37,38,39,40],
            "labelExpr": "datum.value % 5 === 0 ? datum.value + '%' : ''", "labelOverlap": false, "labelFlush": false,
            "gridOpacity": {"condition": {"test": "datum.value % 5 === 0", "value": 1}, "value": 0}}},
        "y": {"field": "y", "type": "quantitative", "scale": {"domain": [0, 40], "nice": false},
          "axis": {"title": "Residual reduction by SDRR+noise+HR+QT", "tickCount": 100, "values": [0,1,2,3,4,5,6,7,8,9,10,11,12,13,14,15,16,17,18,19,20,21,22,23,24,25,26,27,28,29,30,31,32,33,34,35,36,37,38,39,40],
            "labelExpr": "datum.value % 5 === 0 ? datum.value + '%' : ''", "labelOverlap": false, "labelFlush": false,
            "gridOpacity": {"condition": {"test": "datum.value % 5 === 0", "value": 1}, "value": 0}}}
      },
      "layer": [
        {"data": {"name": "Db"}, "mark": {"type": "square", "size": 56, "fill": "#8c8cf2", "stroke": "#1e1eff", "strokeWidth": 1, "opacity": 1}},
        {"data": {"name": "Dr"}, "mark": {"type": "circle", "size": 50, "fill": "#f4a0a0", "stroke": "#ff1010", "strokeWidth": 1, "opacity": 1}}
      ]
    }
  ]
}
